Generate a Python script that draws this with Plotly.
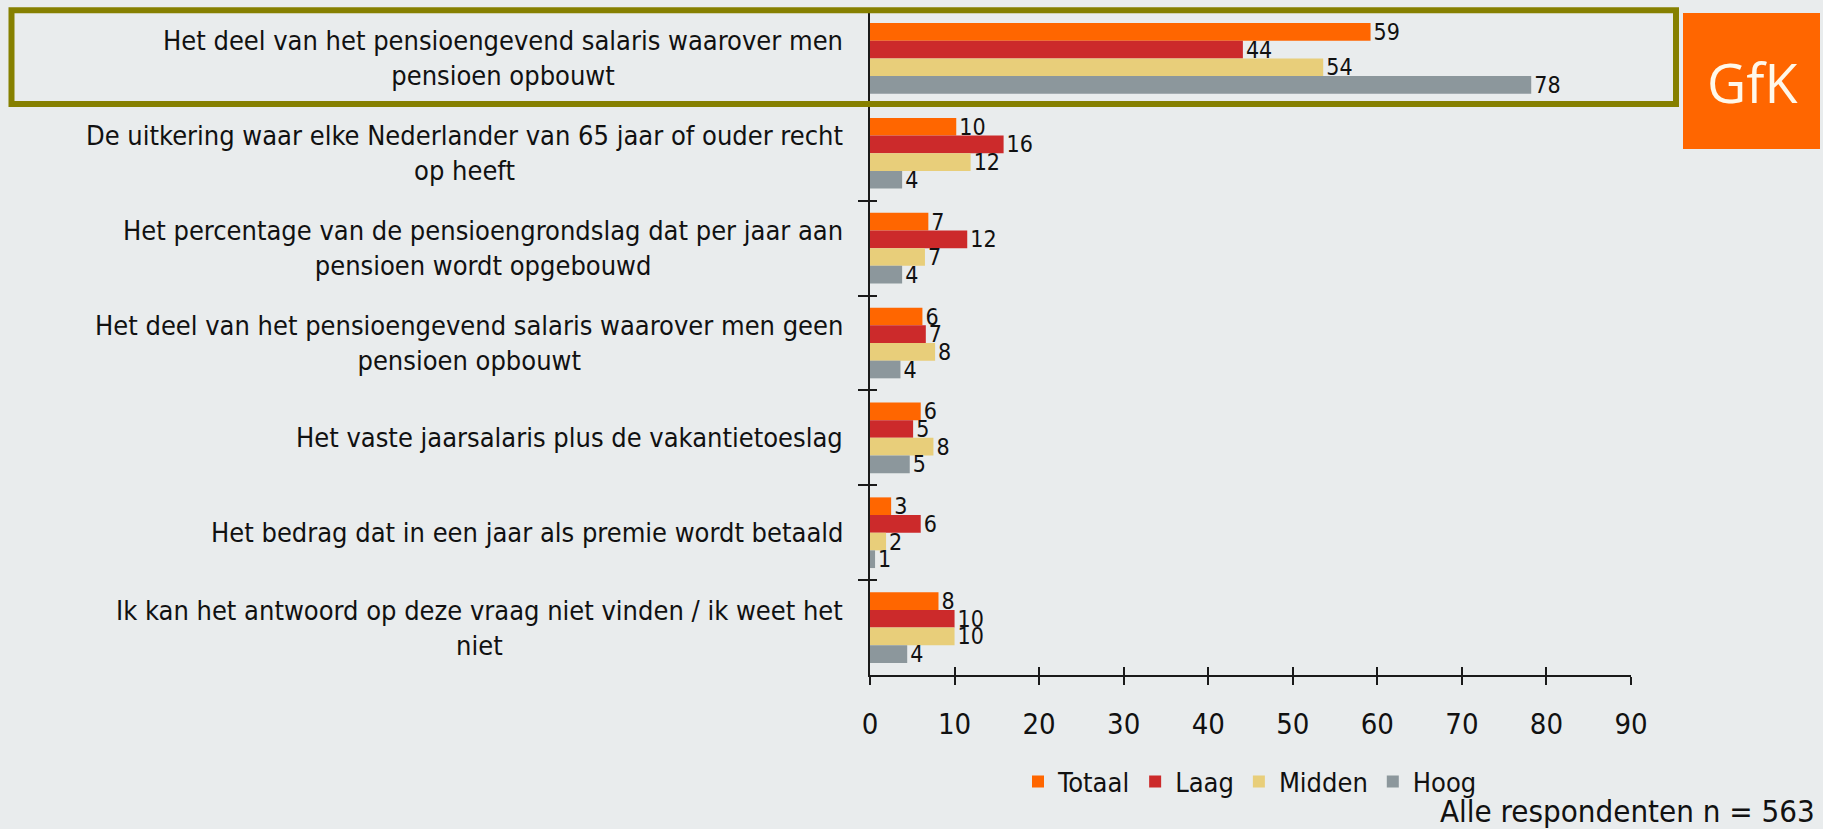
import plotly.graph_objects as go

categories = [
    "Het deel van het pensioengevend salaris waarover men<br>pensioen opbouwt",
    "De uitkering waar elke Nederlander van 65 jaar of ouder recht<br>op heeft",
    "Het percentage van de pensioengrondslag dat per jaar aan<br>pensioen wordt opgebouwd",
    "Het deel van het pensioengevend salaris waarover men geen<br>pensioen opbouwt",
    "Het vaste jaarsalaris plus de vakantietoeslag",
    "Het bedrag dat in een jaar als premie wordt betaald",
    "Ik kan het antwoord op deze vraag niet vinden / ik weet het<br>niet",
]

series_names = ["Totaal", "Laag", "Midden", "Hoog"]
totaal = [59.2, 10.2, 6.9, 6.2, 6.0, 2.5, 8.1]
laag = [44.1, 15.8, 11.5, 6.6, 5.1, 6.0, 10.0]
midden = [53.6, 11.9, 6.5, 7.7, 7.5, 1.9, 10.0]
hoog = [78.2, 3.8, 3.8, 3.6, 4.7, 0.6, 4.4]

totaal_labels = ["59", "10", "7", "6", "6", "3", "8"]
laag_labels = ["44", "16", "12", "7", "5", "6", "10"]
midden_labels = ["54", "12", "7", "8", "8", "2", "10"]
hoog_labels = ["78", "4", "4", "4", "5", "1", "4"]

x_ticks = [0, 10, 20, 30, 40, 50, 60, 70, 80, 90]

colors = ["#FF6600", "#CC2A2B", "#E8CE7A", "#8C979C"]
values = [totaal, laag, midden, hoog]
labels = [totaal_labels, laag_labels, midden_labels, hoog_labels]

FONT = "'DejaVu Sans Condensed', Tahoma, 'Liberation Sans', sans-serif"
BG = "#E9ECED"
AXC = "#1a1a1a"

# plot area in pixels
PL, PR, PT, PB = 870, 1631, 11, 675
W = PR - PL
H = PB - PT


def px(x):
    return (x - PL) / W


def py(y):
    return (PB - y) / H


fig = go.Figure()
for name, vals, labs, col in zip(series_names, values, labels, colors):
    fig.add_trace(go.Bar(
        name=name, y=categories, x=vals, orientation="h",
        marker=dict(color=col, line=dict(width=0)),
        text=labs, textposition="outside", cliponaxis=False,
        constraintext="none",
        textfont=dict(family=FONT, size=23, color="#111111"),
        hoverinfo="skip",
    ))

# invisible helper trace for overlay axes (cross ticks)
fig.add_trace(go.Scatter(
    x=[0] * len(categories), y=categories, xaxis="x2", yaxis="y2",
    mode="markers", marker=dict(opacity=0), showlegend=False, hoverinfo="skip",
))

fig.update_layout(
    width=1823, height=829,
    margin=dict(l=PL, r=1823 - PR, t=PT, b=829 - PB, pad=0),
    paper_bgcolor=BG, plot_bgcolor=BG,
    barmode="group", bargap=0.255, bargroupgap=0,
    font=dict(family=FONT, color="#111111"),
    xaxis=dict(
        range=[0, 90], tickvals=x_ticks, showgrid=False, zeroline=False,
        showline=True, linecolor=AXC, linewidth=1.5,
        ticks="outside", ticklen=8, tickwidth=1.5, tickcolor=AXC,
        tickfont=dict(family=FONT, size=29, color="#111111"),
        ticklabelstandoff=14,
    ),
    xaxis2=dict(
        overlaying="x", matches="x", anchor="y", side="bottom",
        tickvals=x_ticks, showgrid=False, zeroline=False, showline=False,
        ticks="inside", ticklen=8, tickwidth=1.5, tickcolor=AXC,
        showticklabels=False,
    ),
    yaxis=dict(
        categoryorder="array", categoryarray=categories, autorange="reversed",
        showgrid=False, zeroline=False, showline=True, linecolor=AXC, linewidth=1.5,
        ticks="outside", ticklen=10, tickwidth=1.5, tickcolor=AXC,
        tickson="boundaries", showticklabels=False,
    ),
    yaxis2=dict(
        overlaying="y", matches="y", anchor="x",
        categoryorder="array", categoryarray=categories,
        showgrid=False, zeroline=False, showline=False,
        ticks="inside", ticklen=7, tickwidth=1.5, tickcolor=AXC,
        tickson="boundaries", showticklabels=False,
    ),
    legend=dict(
        orientation="h", x=px(1018), xanchor="left", y=py(782), yanchor="middle",
        font=dict(family=FONT, size=27, color="#111111"),
        bgcolor="rgba(0,0,0,0)", traceorder="normal",
        itemclick=False, itemdoubleclick=False,
    ),
    showlegend=True,
)

annotations = []
for cat in categories:
    annotations.append(dict(
        x=0, xref="paper", y=cat, yref="y", xanchor="right", yanchor="middle",
        xshift=-25, text=cat, showarrow=False, align="center",
        font=dict(family=FONT, size=27, color="#111111"),
    ))

annotations.append(dict(
    x=px(1817), y=py(811), xref="paper", yref="paper", xanchor="right", yanchor="middle",
    text="Alle respondenten n = 563", showarrow=False,
    font=dict(family=FONT, size=31, color="#111111"),
))

annotations.append(dict(
    x=px(1752), y=py(82), xref="paper", yref="paper", xanchor="center", yanchor="middle",
    text="GfK", showarrow=False,
    font=dict(family="'Open Sans', Lato, sans-serif", size=54, color="#FFF8EA"),
))

shapes = [
    dict(type="rect", xref="paper", yref="paper",
         x0=px(11.5), x1=px(1676), y0=py(10.3), y1=py(104),
         line=dict(color="#868000", width=6), fillcolor="rgba(0,0,0,0)", layer="above"),
    dict(type="rect", xref="paper", yref="paper",
         x0=px(1683), x1=px(1820), y0=py(13), y1=py(149),
         line=dict(width=0), fillcolor="#FF6600", layer="below"),
]

fig.update_layout(annotations=annotations, shapes=shapes)

fig.write_html(
    "out.html",
    config={"displayModeBar": False},
    post_script="document.body.style.margin='0';document.body.style.overflow='hidden';",
)
